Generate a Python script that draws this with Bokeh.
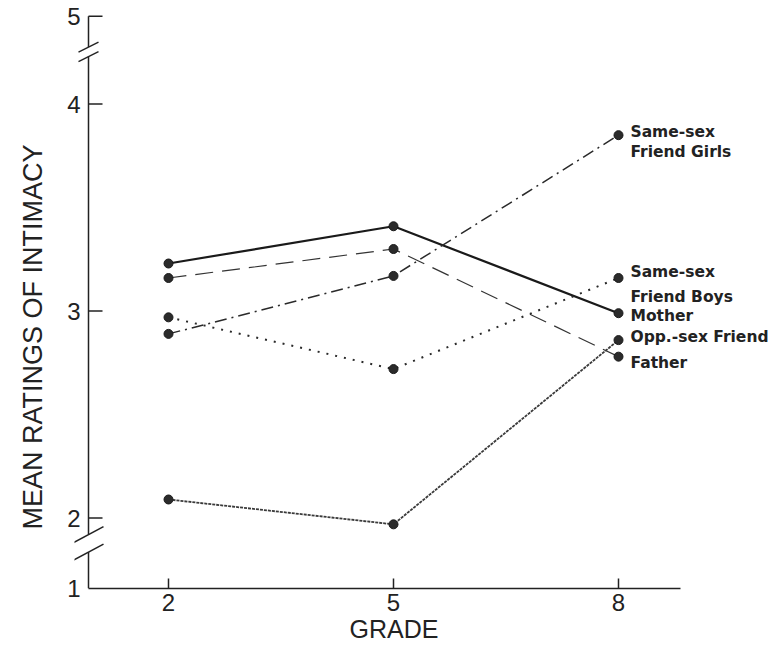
from bokeh.plotting import figure
from bokeh.models import Range1d, FixedTicker, Title, ColumnDataSource
from bokeh.core.properties import value
from bokeh.embed import file_html
from bokeh.resources import INLINE

# ---------------- data ----------------
grades = [2, 5, 8]
mother = [3.23, 3.41, 2.99]
father = [3.16, 3.30, 2.78]
same_sex_girls = [2.89, 3.17, 3.85]
same_sex_boys = [2.97, 2.72, 3.16]
opp_sex_friend = [2.09, 1.97, 2.86]

x_tick_values = [2, 5, 8]
y_tick_values = [2, 3, 4]
y_tick_labels = ["1", "2", "3", "4", "5"]   # 1 and 5 sit beyond the axis breaks

label_mother = ["Mother"]
label_father = ["Father"]
label_girls = ["Same-sex", "Friend Girls"]
label_boys = ["Same-sex", "Friend Boys"]
label_opp = ["Opp.-sex Friend"]

x_title = "GRADE"
y_title = "MEAN RATINGS OF INTIMACY"

# ---------------- layout / style ----------------
INK = "#222222"
PX_X = 75.0      # pixels per grade
PX_Y = 207.0     # pixels per rating unit
W, H = 775, 650
FRAME_L, FRAME_R, FRAME_T, FRAME_B = 74, 775, 12, 588
XA = 2 - 80 / PX_X                       # where the drawn y axis stands
XS = 2 - (168 - FRAME_L) / PX_X
XE = XS + (FRAME_R - FRAME_L) / PX_X
YS = 1.66                                # display position of "1"
YE = YS + (FRAME_B - FRAME_T) / PX_Y
Y5 = 4.425                               # display position of "5"

p = figure(width=W, height=H, x_range=Range1d(XS, XE), y_range=Range1d(YS, YE),
           output_backend="svg", toolbar_location=None,
           min_border_left=FRAME_L, min_border_right=W - FRAME_R, min_border_top=FRAME_T,
           min_border_bottom=H - FRAME_B)
p.outline_line_color = None
p.grid.visible = False
p.background_fill_color = "white"
p.border_fill_color = "white"

# x axis
xa = p.xaxis[0]
xa.ticker = FixedTicker(ticks=x_tick_values)
xa.bounds = (XA, 8.83)
xa.major_label_text_font = "Liberation Sans"
xa.major_label_text_font_size = "24px"
xa.major_label_text_color = INK
xa.major_label_standoff = 5
xa.major_tick_in = 10
xa.major_tick_out = 0
xa.minor_tick_line_color = None
xa.axis_line_color = INK
xa.axis_line_width = 1.5
xa.major_tick_line_color = INK
xa.major_tick_line_width = 1.5

# y axis: labels from Bokeh, broken rule drawn below
ya = p.yaxis[0]
y_ticks = [YS] + y_tick_values + [Y5]
ya.ticker = FixedTicker(ticks=y_ticks)
ya.major_label_overrides = dict(zip(y_ticks, y_tick_labels))
ya.major_label_text_font = "Liberation Sans"
ya.major_label_text_font_size = "24px"
ya.major_label_text_color = INK
ya.major_label_standoff = -6
ya.major_tick_in = 0
ya.major_tick_out = 0
ya.major_tick_line_color = None
ya.minor_tick_line_color = None
ya.axis_line_color = None

p.add_layout(Title(text=y_title, align="left", offset=59, vertical_align="top", standoff=29,
                   text_font="Liberation Sans", text_font_size="27px",
                   text_font_style="normal", text_color=INK), "left")
p.add_layout(Title(text=x_title, align="left", offset=275, vertical_align="middle", standoff=0,
                   text_font="Liberation Sans", text_font_size="25px",
                   text_font_style="normal", text_color=INK), "below")

# broken y rule, its ticks and break marks
lo_a, lo_b = 2 - 34 / PX_Y, 2 - 16.5 / PX_Y     # lower break
up_a, up_b = 4 + 47.5 / PX_Y, 4 + 57 / PX_Y     # upper break
tick_len = 14 / PX_X
x0s = [XA, XA, XA]
y0s = [YS, lo_b, up_b]
x1s = [XA, XA, XA]
y1s = [lo_a, up_a, Y5]
for yt in y_tick_values + [Y5]:
    x0s.append(XA); y0s.append(yt); x1s.append(XA + tick_len); y1s.append(yt)
for yb, hw, hh in ((lo_a, 15, 8), (lo_b, 15, 8), (up_a, 10, 5), (up_b, 10, 5)):
    x0s.append(XA - hw / PX_X); y0s.append(yb - hh / PX_Y)
    x1s.append(XA + hw / PX_X); y1s.append(yb + hh / PX_Y)
p.segment(x0=x0s, y0=y0s, x1=x1s, y1=y1s, line_color=INK, line_width=1.5)

# ---------------- series ----------------
series = [
    (mother, label_mother, dict(line_width=2.2, line_color="#1a1a1a"), [3]),
    (father, label_father, dict(line_width=1.2, line_color="#333333", line_dash="18 9"), [6]),
    (same_sex_girls, label_girls, dict(line_width=1.5, line_color="#2a2a2a", line_dash="12 5 2 5"), [-3, 17]),
    (same_sex_boys, label_boys, dict(line_width=2.0, line_color="#2a2a2a", line_dash="2 7"), [-6, 19]),
    (opp_sex_friend, label_opp, dict(line_width=1.8, line_color="#3a3a3a", line_dash="3 1"), [-3]),
]

for vals, _, style, _ in series:
    p.line(grades, vals, **style)

for vals, _, _, _ in series:
    p.scatter(grades, vals, size=9, fill_color="#2b2b2b", line_color="#1a1a1a")

tx, ty, tt, toff = [], [], [], []
for vals, lines, _, offs in series:
    for line_text, off in zip(lines, offs):
        tx.append(grades[-1])
        ty.append(vals[-1])
        tt.append(line_text)
        toff.append(off)

src = ColumnDataSource(dict(x=tx, y=ty, text=tt, yo=toff))
p.text(x="x", y="y", text="text", y_offset="yo", x_offset=12, source=src,
       text_font=value("DejaVu Sans"), text_font_style="bold", text_font_size="15.5px",
       text_color=INK, text_baseline="middle", text_align="left")

open("out.html", "w").write(file_html(p, INLINE))
